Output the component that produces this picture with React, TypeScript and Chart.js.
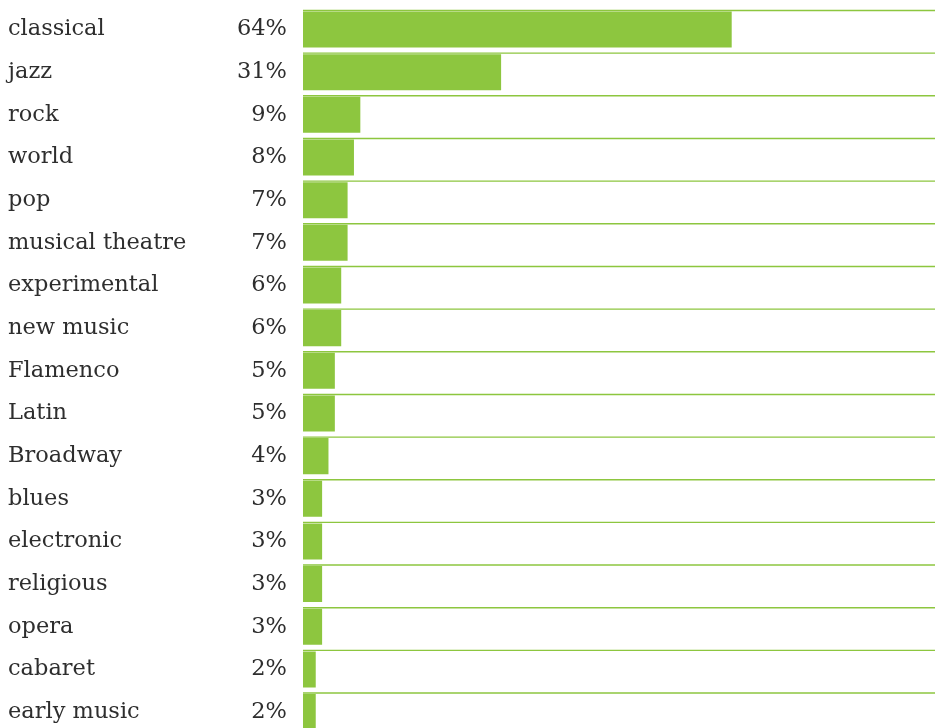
import React, { useEffect, useRef } from "react";
import { Chart, registerables } from "chart.js";

Chart.register(...registerables);

const genres = [
  "classical", "jazz", "rock", "world", "pop", "musical theatre", "experimental",
  "new music", "Flamenco", "Latin", "Broadway", "blues", "electronic", "religious",
  "opera", "cabaret", "early music",
];
const shares = [67.3, 31.1, 9, 8, 7, 7, 6, 6, 5, 5, 4, 3, 3, 3, 3, 2, 2];
const shareLabels = [
  "64%", "31%", "9%", "8%", "7%", "7%", "6%", "6%", "5%", "5%", "4%", "3%",
  "3%", "3%", "3%", "2%", "2%",
];

const GREEN = "#8dc63f";
const TEXT = "#2e2e2e";
const FONT = '22.5px "DejaVu Serif", Georgia, serif';

const rowPlugin = {
  id: "rowPlugin",
  beforeDatasetsDraw(chart: any) {
    const { ctx, chartArea } = chart;
    const meta = chart.getDatasetMeta(0);
    ctx.save();
    ctx.strokeStyle = GREEN;
    ctx.lineWidth = 1.4;
    meta.data.forEach((bar: any) => {
      const y = bar.y - bar.height / 2 - 1;
      ctx.beginPath();
      ctx.moveTo(chartArea.left, y);
      ctx.lineTo(chart.width, y);
      ctx.stroke();
    });
    ctx.restore();
  },
  afterDatasetsDraw(chart: any) {
    const { ctx } = chart;
    const meta = chart.getDatasetMeta(0);
    ctx.save();
    ctx.font = FONT;
    ctx.fillStyle = TEXT;
    ctx.textBaseline = "middle";
    meta.data.forEach((bar: any, i: number) => {
      ctx.textAlign = "left";
      ctx.fillText(genres[i], 8, bar.y);
      ctx.textAlign = "right";
      ctx.fillText(shareLabels[i], 287, bar.y);
    });
    ctx.restore();
  },
};

export default function App() {
  const ref = useRef<HTMLCanvasElement>(null);
  useEffect(() => {
    document.body.style.margin = "0";
    document.body.style.overflow = "hidden";
    const chart = new Chart(ref.current!, {
      type: "bar",
      data: {
        labels: genres,
        datasets: [
          {
            data: shares,
            backgroundColor: GREEN,
            borderWidth: 0,
            barPercentage: 0.845,
            categoryPercentage: 1,
          },
        ],
      },
      options: {
        indexAxis: "y",
        animation: false,
        responsive: false,
        maintainAspectRatio: false,
        layout: { padding: { left: 303, right: 5, top: 8.2, bottom: 6.6 } },
        plugins: {
          legend: { display: false },
          tooltip: { enabled: false },
        },
        scales: {
          x: { display: false, min: 0, max: 100 },
          y: { display: false },
        },
      },
      plugins: [rowPlugin],
    });
    return () => chart.destroy();
  }, []);
  return (
    <div style={{ position: "absolute", left: 0, top: 0, width: 945, height: 740 }}>
      <canvas ref={ref} width={945} height={740} style={{ display: "block" }} />
    </div>
  );
}
